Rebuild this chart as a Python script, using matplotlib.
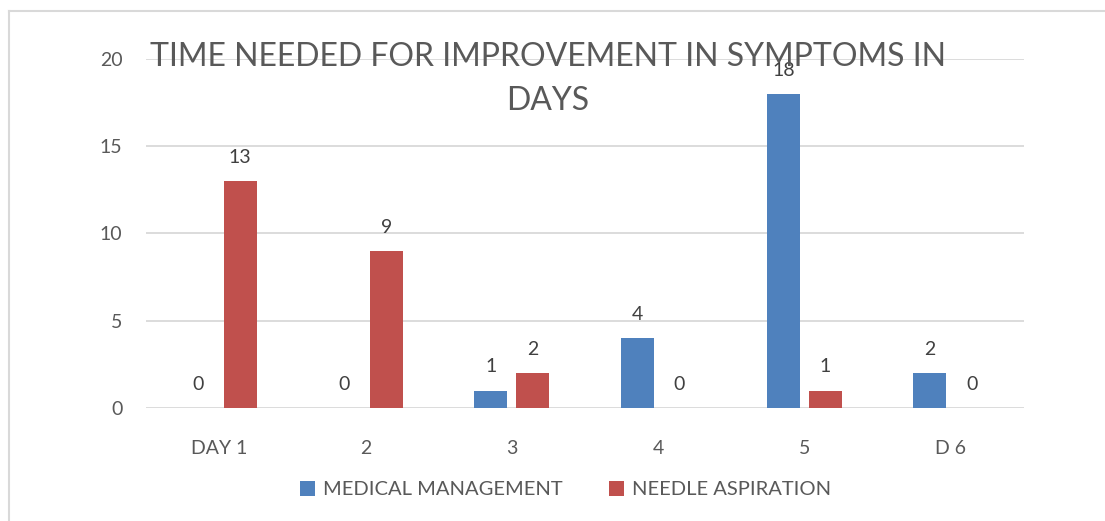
import matplotlib.pyplot as plt
import numpy as np
from matplotlib.lines import Line2D

plt.rcParams['font.family'] = ['Lato', 'DejaVu Sans']

days = ['DAY 1', '2', '3', '4', '5', 'D 6']
medical = [0, 0, 1, 4, 18, 2]
needle = [13, 9, 2, 0, 1, 0]

BLUE = '#4F81BD'
RED = '#C0504D'
TXT = '#595959'
GRID = '#D9D9D9'

fig = plt.figure(figsize=(11.05, 5.21), dpi=100)
ax = fig.add_axes([0.1321, 0.2169, 0.7946, 0.6699])

x = np.arange(len(days))
w = 0.225
off = 0.144
b1 = ax.bar(x - off, medical, w, color=BLUE, label='MEDICAL MANAGEMENT', zorder=3)
b2 = ax.bar(x + off, needle, w, color=RED, label='NEEDLE ASPIRATION', zorder=3)
ax.bar_label(b1, padding=11, fontsize=14, color='#404040')
ax.bar_label(b2, padding=11, fontsize=14, color='#404040')

ax.set_xlim(-0.5, len(days) - 0.5)
ax.set_ylim(0, 20)
ax.set_yticks([0, 5, 10, 15, 20])
ax.set_xticks(x)
ax.set_xticklabels(days)
ax.yaxis.grid(True, color=GRID, linewidth=1.3, zorder=0)
for s in ax.spines.values():
    s.set_visible(False)
ax.tick_params(axis='both', length=0, labelsize=14, labelcolor=TXT)
ax.tick_params(axis='y', pad=17)
ax.tick_params(axis='x', pad=23)

fig.text(0.496, 0.848, 'TIME NEEDED FOR IMPROVEMENT IN SYMPTOMS IN\nDAYS',
         ha='center', va='center', fontsize=23, color=TXT, linespacing=1.56)

fig.legend(loc='center', bbox_to_anchor=(0.512, 0.06), ncol=2, frameon=False,
           fontsize=14.5, labelcolor=TXT, handlelength=0.75, handleheight=0.75,
           handletextpad=0.4, columnspacing=2.3)

# outer chart border (left and top visible)
fig.add_artist(Line2D([9 / 1105, 9 / 1105], [0, 1 - 11 / 521], color=GRID, linewidth=1.5))
fig.add_artist(Line2D([9 / 1105, 1], [1 - 11 / 521, 1 - 11 / 521], color=GRID, linewidth=1.5))

fig.savefig('out.png', dpi=100)
